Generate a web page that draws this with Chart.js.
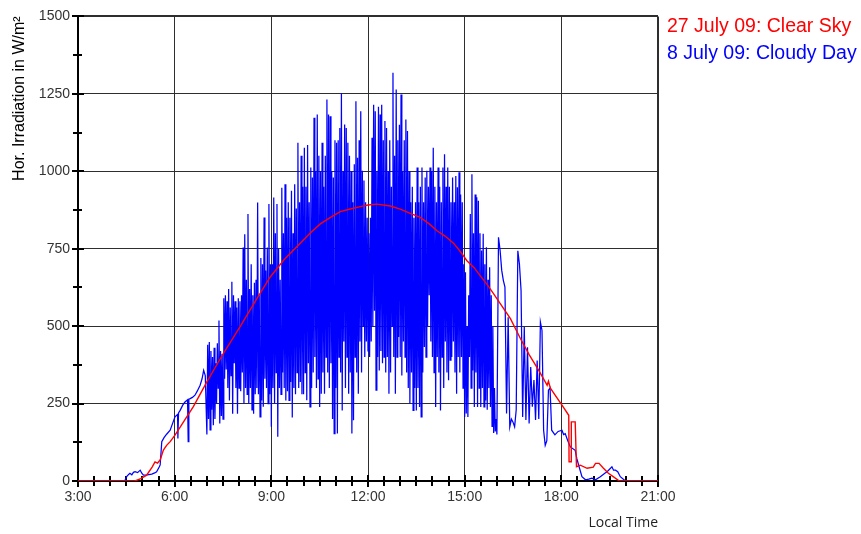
<!DOCTYPE html>
<html><head><meta charset="utf-8">
<script src="https://cdn.jsdelivr.net/npm/chart.js@4.4.1/dist/chart.umd.min.js"></script>
<style>html,body{margin:0;padding:0;background:#fff;}canvas{display:block;}</style>
</head><body>
<canvas id="c" width="861" height="534"></canvas>
<script>
// ---- data (local time in decimal hours, horizontal irradiation in W/m²) ----
const seriesLabels = ['27 July 09: Clear Sky', '8 July 09: Cloudy Day'];
const timeTickLabels = ['3:00', '6:00', '9:00', '12:00', '15:00', '18:00', '21:00'];
const irradianceTickLabels = ['0', '250', '500', '750', '1000', '1250', '1500'];

// clear sky day
const clearHours = [3.00, 4.77, 4.95, 5.13, 5.30, 5.39, 5.47, 5.55, 5.65, 5.75, 5.86, 6.01, 6.30, 6.58, 7.00, 7.50, 8.05, 8.50, 8.96, 9.40,
  9.89, 10.20, 10.52, 10.85, 11.14, 11.45, 11.76, 12.00, 12.28, 12.69, 13.00, 13.31, 13.62, 13.90, 14.14, 14.40, 14.66, 14.87, 15.07, 15.30,
  15.48, 15.70, 15.90, 16.11, 16.42, 16.73, 17.00, 17.30, 17.56, 17.60, 17.66, 18.02, 18.23, 18.24, 18.30, 18.31, 18.43, 18.47, 18.59, 18.80,
  18.99, 19.06, 19.17, 19.30, 19.46, 19.61, 19.80, 21.00];
const clearWm2 = [0, 0, 8, 19, 45, 62, 58, 68, 100, 115, 127, 148, 195, 240, 320, 410, 502, 580, 658, 715,
  767, 800, 830, 852, 870, 878, 886, 891, 894, 888, 878, 864, 851, 830, 808, 790, 767, 740, 711, 688,
  663, 634, 604, 572, 524, 460, 408, 357, 309, 322, 300, 245, 212, 62, 62, 191, 191, 46, 51, 41,
  45, 57, 57, 42, 25, 14, 0, 0];

// cloudy day: morning (before the cloud fluctuations)
const cloudyMorningHours = [
  3.00, 4.45, 4.51, 4.58, 4.61, 4.67, 4.72, 4.77, 4.85, 4.93,
  4.98, 5.03, 5.15, 5.29, 5.38, 5.44, 5.52, 5.55, 5.60, 5.67,
  5.75, 5.86, 5.95, 6.01, 6.09, 6.10, 6.12, 6.17, 6.25, 6.32,
  6.40, 6.42, 6.44, 6.48, 6.55, 6.63, 6.70, 6.79, 6.85, 6.90, 6.95];
const cloudyMorningWm2 = [
  0, 0, 14, 22, 25, 20, 28, 30, 27, 35,
  25, 19, 20, 22, 26, 30, 45, 52, 127, 140,
  151, 164, 190, 207, 215, 137, 220, 228, 245, 255,
  262, 127, 264, 266, 270, 277, 290, 309, 330, 357, 340];

// cloudy day: fluctuating period, one reading every 1.5 min from 7:00 to 16:00
const cloudyDenseStartHour = 7.0;
const cloudyDenseStepHour = 0.025;
const cloudyDenseWm2 = [
  150, 440, 200, 449, 165, 420, 230, 400, 180, 430, 200, 380, 250, 445, 300, 518, 186, 420, 210, 410,
  200, 590, 330, 600, 360, 580, 300, 620, 260, 560, 340, 643, 217, 600, 380, 580, 300, 560, 217, 590,
  300, 580, 290, 600, 350, 754, 250, 797, 300, 650, 280, 862, 250, 620, 300, 700, 230, 600, 217, 640,
  280, 650, 300, 899, 280, 600, 207, 720, 260, 700, 240, 851, 330, 680, 300, 754, 250, 894, 280, 700,
  175, 700, 300, 915, 250, 800, 350, 894, 143, 750, 300, 650, 280, 947, 350, 800, 300, 958, 260, 850,
  290, 900, 260, 850, 320, 937, 205, 800, 300, 958, 280, 880, 350, 1092, 300, 900, 320, 1050, 280, 950,
  280, 1076, 350, 950, 261, 1085, 380, 900, 239, 1012, 300, 980, 350, 1173, 400, 1000, 300, 1183, 330, 1050,
  239, 1000, 282, 1092, 350, 950, 282, 1050, 400, 1232, 350, 1183, 300, 1178, 380, 1000, 200, 980, 153, 1100,
  300, 1092, 153, 1100, 400, 1140, 350, 1252, 228, 1000, 450, 1151, 300, 1140, 400, 1092, 282, 1050, 350, 1000,
  153, 900, 196, 1023, 400, 1226, 350, 1044, 282, 1100, 450, 1194, 350, 1002, 500, 970, 400, 900, 450, 850,
  420, 800, 400, 850, 450, 1108, 500, 1215, 550, 1194, 293, 1000, 400, 1208, 357, 1183, 420, 1215, 380, 1100,
  400, 1162, 350, 1140, 400, 1000, 282, 1100, 350, 950, 500, 1318, 400, 1050, 282, 1264, 400, 1100, 465, 1150,
  400, 1248, 341, 1000, 450, 1100, 400, 1167, 350, 1130, 300, 1000, 250, 900, 350, 950, 228, 850, 300, 900,
  228, 1012, 300, 900, 239, 950, 207, 1012, 350, 900, 433, 980, 400, 1002, 500, 950, 600, 1012, 450, 1000,
  400, 1076, 350, 950, 239, 900, 400, 1012, 350, 950, 228, 900, 400, 1012, 300, 1055, 450, 950, 350, 1012,
  325, 950, 390, 900, 400, 980, 450, 900, 350, 985, 282, 948, 400, 997, 350, 925, 400, 900, 300, 700,
  207, 674, 218, 500, 207, 600, 400, 862, 300, 990, 357, 800, 239, 925, 350, 916, 239, 905, 300, 800,
  239, 744, 300, 798, 239, 700, 260, 755, 230, 650, 300, 690, 239, 600, 176, 500, 155, 300, 160, 200];

// cloudy day: late afternoon and evening
const cloudyEveningHours = [
  16.00, 16.05, 16.10, 16.15, 16.20, 16.25, 16.30, 16.35, 16.40, 16.45,
  16.50, 16.55, 16.60, 16.65, 16.70, 16.75, 16.80, 16.85, 16.90, 16.95,
  17.00, 17.05, 17.10, 17.15, 17.20, 17.25, 17.30, 17.35, 17.40, 17.45,
  17.50, 17.55, 17.60, 17.65, 17.70, 17.80, 17.90, 18.02, 18.07, 18.12,
  18.20, 18.28, 18.43, 18.48, 18.54, 18.64, 18.75, 18.85, 18.95, 19.06,
  19.21, 19.35, 19.42, 19.57, 19.62, 19.68, 19.75, 19.83, 19.99, 21.00];
const cloudyEveningWm2 = [
  150, 787, 744, 680, 648, 626, 218, 529, 175, 200,
  190, 175, 230, 743, 700, 615, 207, 497, 197, 432,
  186, 368, 240, 326, 197, 389, 200, 513, 486, 164,
  115, 130, 293, 300, 164, 149, 160, 164, 150, 153,
  130, 110, 99, 73, 50, 14, 4, 6, 9, 4,
  14, 25, 30, 46, 35, 35, 30, 14, 0, 0];

// ---- axis configuration ----
const X_MIN = 3, X_MAX = 21, X_MINOR = 0.5, X_MAJOR = 3;
const Y_MIN = 0, Y_MAX = 1500, Y_MINOR = 125, Y_MAJOR = 250;
function steps(a, b, s) { const r = []; for (let v = a; v <= b + 1e-9; v += s) r.push(Math.round(v * 1000) / 1000); return r; }
const isMajor = (v, m) => Math.abs(v / m - Math.round(v / m)) < 1e-6;
const toXY = (xs, ys) => xs.map((x, i) => ({ x: x, y: ys[i] }));

const cloudyPoints = [].concat(
  toXY(cloudyMorningHours, cloudyMorningWm2),
  cloudyDenseWm2.map((v, i) => ({ x: Math.round((cloudyDenseStartHour + i * cloudyDenseStepHour) * 1000) / 1000, y: v })),
  toXY(cloudyEveningHours, cloudyEveningWm2)
).sort((a, b) => a.x - b.x);

const GRID = '#2e2e2e';

const tickMarks = {
  id: 'tickMarks',
  beforeDatasetsDraw(chart) {
    const { ctx, scales: { x, y }, chartArea: a } = chart;
    ctx.save();
    ctx.strokeStyle = '#000';
    ctx.lineWidth = 2;
    x.ticks.forEach(t => {
      const px = Math.round(x.getPixelForValue(t.value));
      const maj = isMajor(t.value, X_MAJOR);
      ctx.beginPath();
      ctx.moveTo(px, a.bottom - (maj ? 6 : 5));
      ctx.lineTo(px, a.bottom + (maj ? 6 : 5));
      ctx.stroke();
    });
    y.ticks.forEach(t => {
      const py = Math.round(y.getPixelForValue(t.value));
      const maj = isMajor(t.value, Y_MAJOR);
      ctx.beginPath();
      ctx.moveTo(a.left - (maj ? 6 : 5), py);
      ctx.lineTo(a.left + (maj ? 6 : 4), py);
      ctx.stroke();
    });
    ctx.restore();
  }
};

const sideLegend = {
  id: 'sideLegend',
  afterDraw(chart) {
    const { ctx } = chart;
    ctx.save();
    ctx.font = '19.5px "Liberation Sans", Arial, sans-serif';
    ctx.textAlign = 'left';
    ctx.textBaseline = 'alphabetic';
    const ys = [32, 59];
    chart.data.datasets.forEach((ds, i) => {
      ctx.fillStyle = ds.borderColor;
      ctx.fillText(ds.label, 667, ys[i]);
    });
    ctx.restore();
  }
};

new Chart(document.getElementById('c'), {
  type: 'line',
  data: {
    datasets: [
      { label: seriesLabels[0], data: toXY(clearHours, clearWm2), borderColor: '#ff0000', borderWidth: 1.4, pointRadius: 0, tension: 0, fill: false },
      { label: seriesLabels[1], data: cloudyPoints, borderColor: '#0000ff', borderWidth: 1.25, pointRadius: 0, tension: 0, fill: false }
    ]
  },
  options: {
    responsive: false,
    animation: false,
    devicePixelRatio: 1,
    parsing: false,
    normalized: true,
    layout: { padding: { top: 15, right: 203, bottom: 0, left: 0 } },
    plugins: { legend: { display: false }, tooltip: { enabled: false } },
    scales: {
      x: {
        type: 'linear', min: X_MIN, max: X_MAX,
        afterBuildTicks: s => { s.ticks = steps(X_MIN, X_MAX, X_MINOR).map(v => ({ value: v })); },
        afterFit: s => { s.height = 53; },
        ticks: {
          autoSkip: false, maxRotation: 0, padding: 8, color: '#333',
          font: { family: '"Liberation Sans", Arial, sans-serif', size: 14 },
          callback: v => isMajor(v, X_MAJOR) ? timeTickLabels[Math.round((v - X_MIN) / X_MAJOR)] : ''
        },
        grid: {
          drawTicks: false,
          color: c => (c.tick && isMajor(c.tick.value, X_MAJOR)) ? GRID : 'rgba(0,0,0,0)',
          lineWidth: c => (c.tick && c.tick.value === X_MAX) ? 2 : 1
        },
        border: { display: true, color: '#000', width: 2 },
        title: {
          display: true, text: 'Local Time', align: 'end', color: '#222',
          font: { family: '"Open Sans", sans-serif', size: 14 },
          padding: { top: 0, bottom: 3 }
        }
      },
      y: {
        type: 'linear', min: Y_MIN, max: Y_MAX,
        afterBuildTicks: s => { s.ticks = steps(Y_MIN, Y_MAX, Y_MINOR).map(v => ({ value: v })); },
        afterFit: s => { s.width = 78; },
        ticks: {
          autoSkip: false, padding: 8, color: '#333',
          font: { family: '"Liberation Sans", Arial, sans-serif', size: 14 },
          callback: v => isMajor(v, Y_MAJOR) ? irradianceTickLabels[Math.round(v / Y_MAJOR)] : ''
        },
        grid: {
          drawTicks: false,
          color: c => (c.tick && isMajor(c.tick.value, Y_MAJOR)) ? GRID : 'rgba(0,0,0,0)',
          lineWidth: c => (c.tick && c.tick.value === Y_MAX) ? 2 : 1
        },
        border: { display: true, color: '#000', width: 2 },
        title: {
          display: true, text: 'Hor. Irradiation in W/m²', align: 'end', color: '#000',
          font: { family: '"Liberation Sans", Arial, sans-serif', size: 16 },
          padding: { top: 10, bottom: 0 }
        }
      }
    }
  },
  plugins: [tickMarks, sideLegend]
});
</script>
</body></html>
